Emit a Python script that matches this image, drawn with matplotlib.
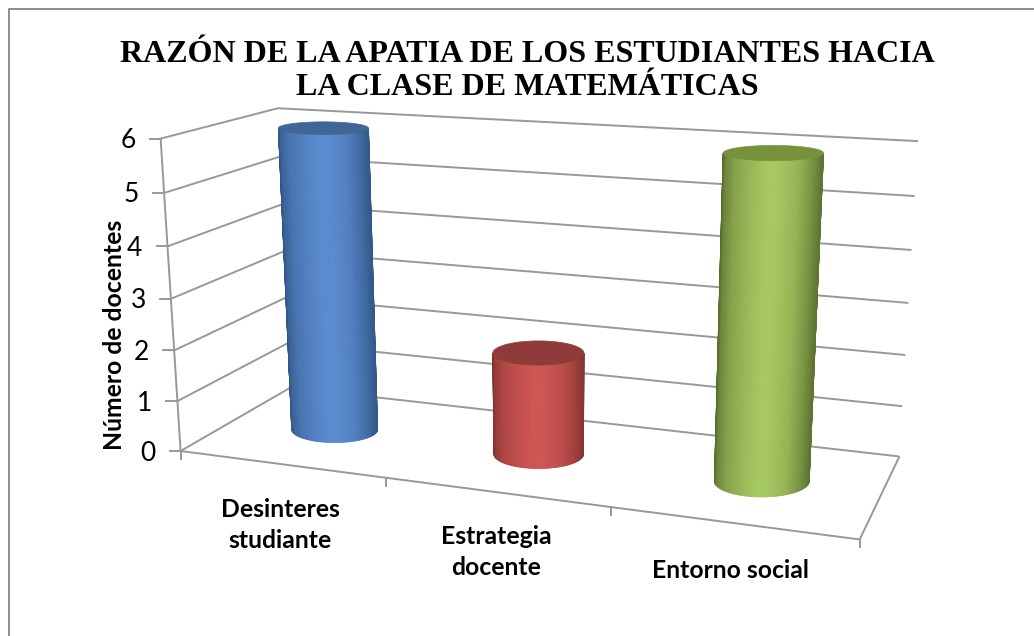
import matplotlib
matplotlib.use('Agg')
import matplotlib.pyplot as plt
import numpy as np

#Chart data
categories = ['Desinteres\nstudiante', 'Estrategia\ndocente', 'Entorno social']
values = [6, 2, 6]
y_ticks = [0, 1, 2, 3, 4, 5, 6]
title = 'RAZÓN DE LA APATIA DE LOS ESTUDIANTES HACIA\nLA CLASE DE MATEMÁTICAS'
y_label = 'Número de docentes'

#Colors for each cylinder: bright, dark edge, flat top
bright = ['#5a8bcf', '#cf5552', '#a6c860']
dark = ['#2f5382', '#7e3230', '#55692c']
tops = ['#3f6695', '#8e3b39', '#76923c']

GRID = '#989898'

#Fit the 3D box (category, depth, value) to the picture with a projective camera
world = [(0, 0, 0), (3, 0, 0), (0, 1, 0), (3, 1, 0), (0, 0, 6), (0, 1, 6), (3, 1, 6)]
screen = [(179.5, 451), (860, 539), (291.5, 387.5), (899, 457), (161.5, 139), (277, 108), (918, 141)]
rows = []
for (a, b, c), (sx, sy) in zip(world, screen):
    rows.append([a, b, c, 1, 0, 0, 0, 0, -sx*a, -sx*b, -sx*c, -sx])
    rows.append([0, 0, 0, 0, a, b, c, 1, -sy*a, -sy*b, -sy*c, -sy])
rows.append([0, 0, 0, 0, 0, 0, 0, 0, 0, 0, 1, 0])
rows = np.array(rows, dtype=float)
P = np.linalg.svd(rows)[2][-1].reshape(3, 4)

def project(u, d, v):
    q = P @ np.array([u, d, v, 1.0])
    return q[0]/q[2], q[1]/q[2]

fig = plt.figure(figsize=(10.34, 6.36), dpi=100)
ax = fig.add_axes([0, 0, 1, 1])
ax.set_xlim(0, 1034)
ax.set_ylim(636, 0)
ax.axis('off')

#Outer frame, only left and top show in the picture
ax.plot([8.5, 8.5, 1034], [636, 9, 9], color='#8c8c8c', lw=1.4)

def line(p0, p1):
    x0, y0 = project(*p0)
    x1, y1 = project(*p1)
    ax.plot([x0, x1], [y0, y1], color=GRID, lw=1.4, solid_capstyle='butt', zorder=1)

#Walls and gridlines
for t in y_ticks:
    line((0, 0, t), (0, 1, t))
    line((0, 1, t), (3, 1, t))
    x, y = project(0, 0, t)
    ax.plot([x-11, x], [y, y], color=GRID, lw=1.4, zorder=1)
    ax.text(x-25, y+2, str(t), ha='right', va='center', fontsize=19, family='Lato', color='black')
line((0, 0, 0), (0, 0, 6))
line((0, 0, 0), (3, 0, 0))
line((3, 0, 0), (3, 1, 0))

#Category ticks
for i in range(4):
    x, y = project(i, 0, 0)
    ax.plot([x, x], [y, y+8], color=GRID, lw=1.4, zorder=1)

#Cylinders, caps stay level on screen like the original chart
RU = [0.22, 0.21, 0.203]
RD = 0.2
stops = [0.0, 0.03, 0.12, 0.3, 0.45, 0.55, 0.75, 0.9, 1.0]
factor = [0.0, 0.3, 0.6, 0.85, 1.0, 1.0, 0.8, 0.45, 0.12]

def cap(i, v):
    #centre and half axes of the circle at height v
    cu = i + 0.5
    x0 = project(cu-RU[i], 0.5, v)[0]
    x1 = project(cu+RU[i], 0.5, v)[0]
    y0 = project(cu, 0.5-RD, v)[1]
    y1 = project(cu, 0.5+RD, v)[1]
    return (x0+x1)/2, (y0+y1)/2, (x1-x0)/2, abs(y0-y1)/2

ang = np.linspace(0, np.pi, 121)
for i in range(len(values)):
    bcx, bcy, ba, bb = cap(i, 0)
    tcx, tcy, ta, tb = cap(i, values[i])
    c0 = np.array(matplotlib.colors.to_rgb(dark[i]))
    c1 = np.array(matplotlib.colors.to_rgb(bright[i]))
    for j in range(120):
        #One thin strip of the front half per angle step, left to right
        a0, a1 = np.pi-ang[j], np.pi-ang[j+1]
        qx = [bcx+ba*np.cos(a0), bcx+ba*np.cos(a1), tcx+ta*np.cos(a1), tcx+ta*np.cos(a0)]
        qy = [bcy+bb*np.sin(a0), bcy+bb*np.sin(a1), tcy+tb*np.sin(a1), tcy+tb*np.sin(a0)]
        mid = 0.5 - 0.5*np.cos((ang[j]+ang[j+1])/2)
        w = np.interp(mid, stops, factor)
        ax.fill(qx, qy, color=c0+(c1-c0)*w, lw=0.6, zorder=3)
    full = np.linspace(0, 2*np.pi, 121)
    ax.fill(tcx+ta*np.cos(full), tcy+tb*np.sin(full), color=tops[i], lw=0.5, zorder=4)

#Texts
ax.text(527, 71, title, ha='center', va='center', fontsize=23, fontweight='bold',
        family='Liberation Serif', linespacing=1.15, color='black')
ax.text(115, 335, y_label, rotation=90, ha='center', va='center', fontsize=17.8,
        fontweight='bold', family='Lato', color='black')
label_pos = [(280, 525), (496, 552), (730, 571)]
for name, (x, y) in zip(categories, label_pos):
    ax.text(x, y, name, ha='center', va='center', fontsize=17.8, fontweight='bold',
            family='Lato', linespacing=1.4, color='black')

fig.savefig('out.png', dpi=100, facecolor='white')
